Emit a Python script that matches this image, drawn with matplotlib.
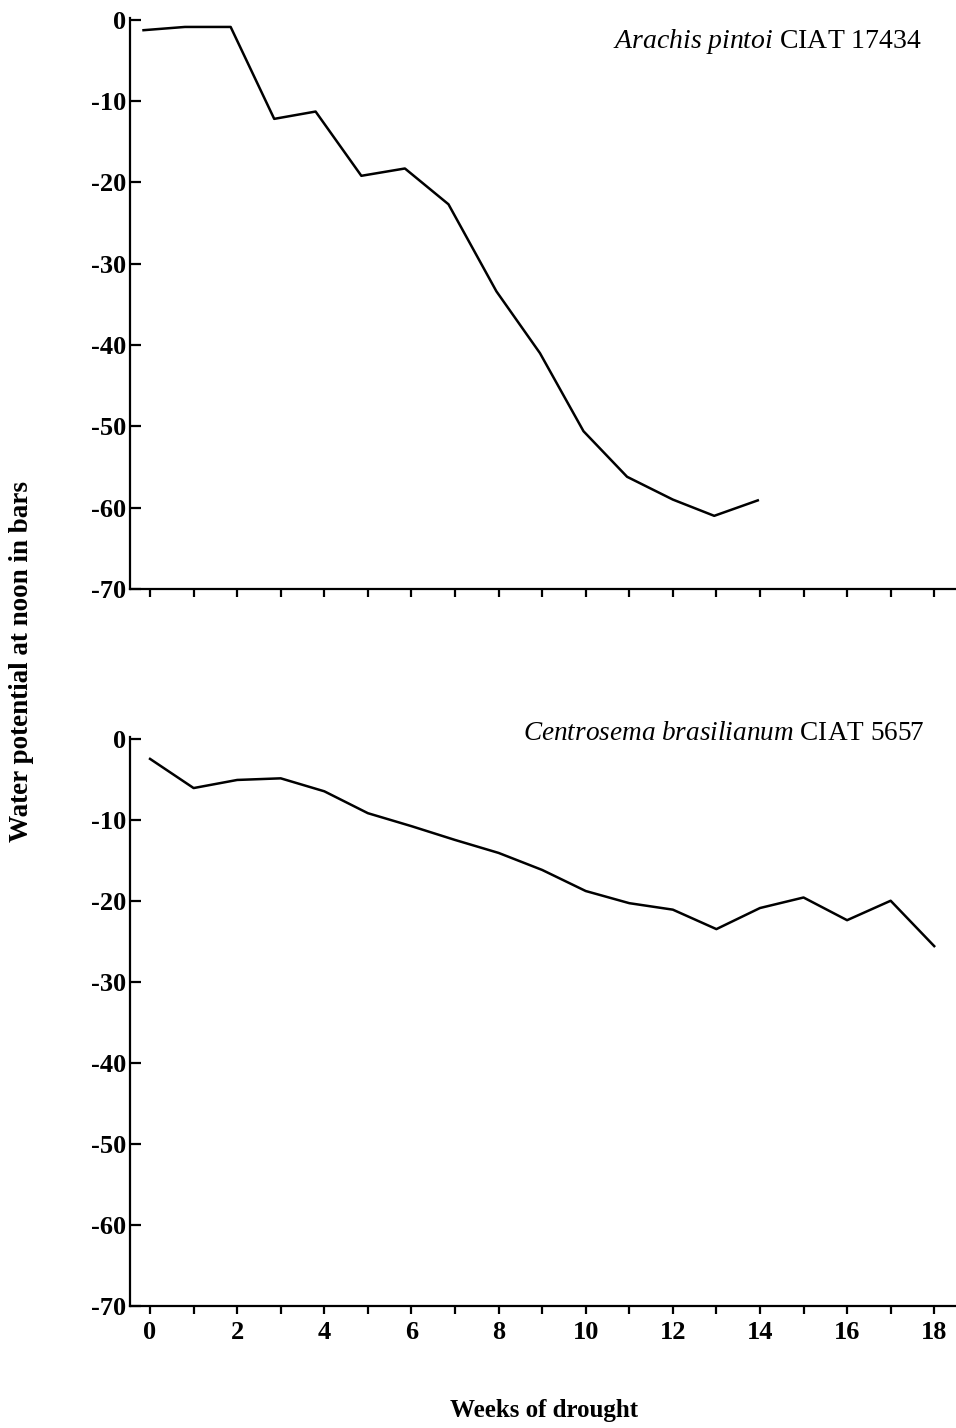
import matplotlib
matplotlib.use('Agg')
import matplotlib.pyplot as plt
from matplotlib.ticker import MultipleLocator, FuncFormatter

plt.rcParams['font.family'] = 'Liberation Serif'
plt.rcParams['mathtext.fontset'] = 'custom'
plt.rcParams['mathtext.rm'] = 'Liberation Serif'
plt.rcParams['mathtext.it'] = 'Liberation Serif:italic'

# Arachis pintoi CIAT 17434 (weeks as plotted in the original)
arachis_weeks = [-0.15, 0.8, 1.85, 2.85, 3.8, 4.85, 5.85, 6.85, 7.95, 8.95,
                 9.95, 10.95, 12.0, 12.95, 13.95]
arachis_psi = [-1.3, -0.9, -0.9, -12.2, -11.3, -19.2, -18.3, -22.7, -33.4,
               -41.0, -50.6, -56.2, -59.0, -61.0, -59.1]

# Centrosema brasilianum CIAT 5657
centro_weeks = list(range(19))
centro_psi = [-2.5, -6.1, -5.1, -4.9, -6.5, -9.2, -10.8, -12.5, -14.1, -16.2,
              -18.8, -20.3, -21.1, -23.5, -20.9, -19.6, -22.4, -20.0, -25.6]

y_ticks = [0, -10, -20, -30, -40, -50, -60, -70]
x_ticks = [0, 2, 4, 6, 8, 10, 12, 14, 16, 18]

fig = plt.figure(figsize=(9.56, 14.28), dpi=100)
ax1 = fig.add_axes([0.136, 0.5875, 0.864, 0.3999])
ax2 = fig.add_axes([0.136, 0.0854, 0.864, 0.3985])

def style(ax, show_xlabels):
    ax.set_xlim(-0.46, 18.5)
    ax.set_ylim(-70, 0.2)
    ax.spines['top'].set_visible(False)
    ax.spines['right'].set_visible(False)
    for s in ('left', 'bottom'):
        ax.spines[s].set_linewidth(1.6)
    ax.set_yticks(y_ticks)
    ax.yaxis.set_major_formatter(FuncFormatter(lambda v, p: '%d' % v))
    ax.xaxis.set_major_locator(MultipleLocator(2))
    ax.xaxis.set_minor_locator(MultipleLocator(1))
    ax.tick_params(axis='y', direction='in', length=8, width=1.6, pad=3,
                   labelsize=19)
    ax.tick_params(axis='x', which='both', direction='out', length=6,
                   width=1.6, pad=5, labelsize=19,
                   labelbottom=show_xlabels)
    for lab in ax.get_yticklabels() + ax.get_xticklabels():
        lab.set_fontweight('bold')

ax1.plot(arachis_weeks, arachis_psi, color='black', lw=1.8)
ax2.plot(centro_weeks, centro_psi, color='black', lw=1.8)
style(ax1, False)
style(ax2, True)
ax2.set_xticks(x_ticks)
for lab in ax2.get_xticklabels():
    lab.set_fontweight('bold')

ax1.text(0.959, 0.947, r'$\mathit{Arachis\ pintoi}$ CIAT 17434',
         transform=ax1.transAxes, ha='right', va='baseline', fontsize=20)
ax2.text(0.962, 0.995, r'$\mathit{Centrosema\ brasilianum}$ CIAT 5657',
         transform=ax2.transAxes, ha='right', va='baseline', fontsize=19.6)

fig.text(544 / 956, 1 - 1410 / 1428, 'Weeks of drought', ha='center',
         va='center', fontsize=18, fontweight='bold')
fig.text(22 / 956, 1 - 661 / 1428, 'Water potential at noon in bars',
         ha='center', va='center', rotation=90, fontsize=19.5,
         fontweight='bold')

fig.savefig('out.png', dpi=100)
